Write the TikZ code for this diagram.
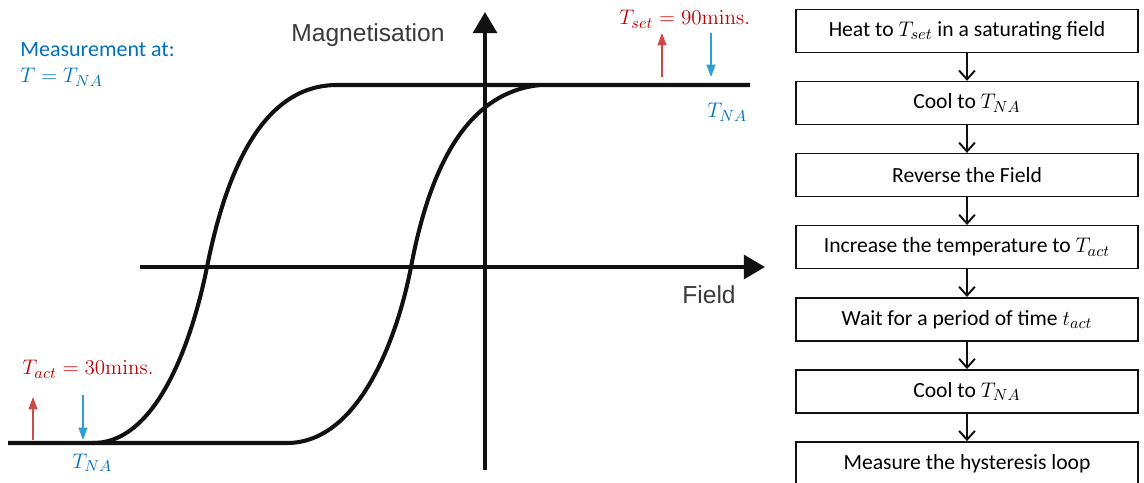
\documentclass[tikz,border=0pt]{standalone}
\usepackage[no-math]{fontspec}
\setmainfont{Carlito}
\newfontfamily\arialfont{Liberation Sans}
\usetikzlibrary{positioning,arrows.meta}
\definecolor{ink}      {HTML}{111111}
\definecolor{axisgray} {HTML}{3A3A3A}
\definecolor{tempred}  {HTML}{C00000}
\definecolor{tempblue} {HTML}{0070C0}
\definecolor{arrred}   {HTML}{D04848}
\definecolor{arrblue}  {HTML}{2A9FD8}
\tikzset{
  every node/.style={font=\fontsize{12.3}{14}\selectfont},
  % --- nodes
  stepbox/.style = {draw=ink, line width=0.9pt, fill=white, align=center,
                    minimum width=6.84cm, minimum height=0.86cm, inner sep=0pt},
  lbl/.style     = {font=\fontsize{12.5}{15}\selectfont, inner sep=0pt, anchor=base west},
  axlbl/.style   = {font=\arialfont\fontsize{14}{16}\selectfont, text=axisgray,
                    inner sep=0pt, anchor=base west},
  % --- edges
  flow/.style    = {-{Straight Barb[length=5pt,width=9pt]}, line width=1.1pt, draw=ink},
  axis/.style    = {-{Triangle[length=12pt,width=13.5pt]}, line width=2.2pt, draw=ink},
  loopline/.style= {line width=2.3pt, draw=ink, line join=round},
  tempup/.style  = {-{Triangle[length=7pt,width=5pt]}, line width=0.9pt, draw=arrred},
  tempdown/.style= {-{Triangle[length=7pt,width=5pt]}, line width=0.9pt, draw=arrblue},
}

\begin{document}
\begin{tikzpicture}[x=0.02cm,y=-0.02cm]
  \useasboundingbox (0,0) rectangle (1144,483);

  % axes
  \coordinate (mbot) at (485,470);
  \coordinate (mtop) at (485,12);
  \coordinate (fleft) at (140,267);
  \coordinate (fright) at (765,267);
  \draw[axis] (mbot) -- (mtop);
  \draw[axis] (fleft) -- (fright);
  \node[axlbl] (magn) at (291,42) {Magnetisation};
  \node[axlbl] (field) at (682,303) {Field};

  % hysteresis loop
  \draw[loopline] (8,443) -- (287,443)
     .. controls (360,443) and (398,335) .. (411,267)
     .. controls (428,177) and (462,93) .. (540,85);
  \draw[loopline] (93,443)
     .. controls (160,443) and (194,332) .. (207,267)
     .. controls (225,177) and (260,85) .. (337,85) -- (750,85);

  % temperature steps
  \coordinate (ra0) at (33,440);  \coordinate (ra1) at (33,397);
  \coordinate (ba0) at (83,395);  \coordinate (ba1) at (83,440);
  \coordinate (rb0) at (662,77);  \coordinate (rb1) at (662,33);
  \coordinate (bb0) at (711,33);  \coordinate (bb1) at (711,77);
  \draw[tempup]   (ra0) -- (ra1);
  \draw[tempdown] (ba0) -- (ba1);
  \draw[tempup]   (rb0) -- (rb1);
  \draw[tempdown] (bb0) -- (bb1);

  \node[lbl, text=tempblue] (meas) at (20,57) {Measurement at:};
  \node[lbl, text=tempblue] (meast) at (20,83) {$T=T_{NA}$};
  \node[lbl, text=tempred]  (tset) at (619,25) {$T_{set}=\mathrm{90mins.}$};
  \node[lbl, text=tempblue] (tna1) at (707,118) {$T_{NA}$};
  \node[lbl, text=tempred]  (tact) at (22,375) {$T_{act}=\mathrm{30mins.}$};
  \node[lbl, text=tempblue] (tna2) at (72,468) {$T_{NA}$};

  % protocol
  \node[stepbox] (s1) at (967,31) {Heat to $T_{set}$ in a saturating field};
  \node[stepbox, below=0.55cm of s1] (s2) {Cool to $T_{NA}$};
  \node[stepbox, below=0.55cm of s2] (s3) {Reverse\ the Field};
  \node[stepbox, below=0.55cm of s3] (s4) {Increase\ the temperature to $T_{act}$};
  \node[stepbox, below=0.55cm of s4] (s5) {Wait for a period of time $t_{act}$};
  \node[stepbox, below=0.55cm of s5] (s6) {Cool to $T_{NA}$};
  \node[stepbox, below=0.55cm of s6] (s7) {Measure\ the hysteresis\ loop};

  \draw[flow] (s1) -- (s2);
  \draw[flow] (s2) -- (s3);
  \draw[flow] (s3) -- (s4);
  \draw[flow] (s4) -- (s5);
  \draw[flow] (s5) -- (s6);
  \draw[flow] (s6) -- (s7);
\end{tikzpicture}
\end{document}
